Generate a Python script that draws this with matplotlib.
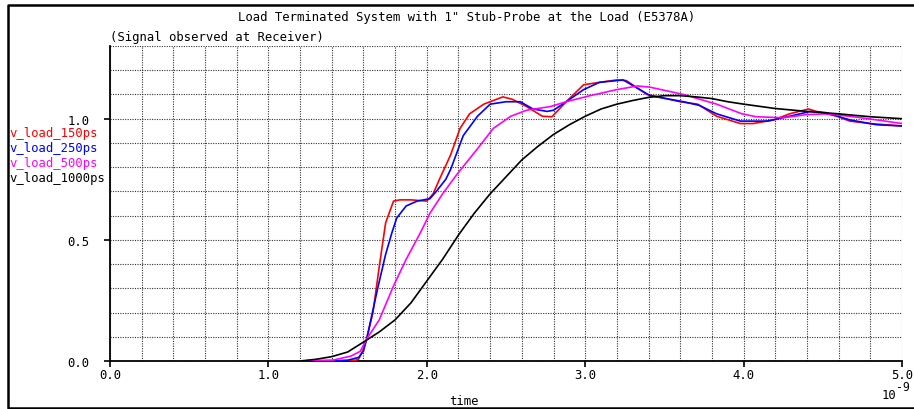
import numpy as np
import matplotlib
matplotlib.use('Agg')
import matplotlib.pyplot as plt
from matplotlib.lines import Line2D
from matplotlib.transforms import ScaledTranslation
from matplotlib.ticker import MultipleLocator, FormatStrFormatter

# time in ns, voltage normalised
t_150 = [1.2, 1.4, 1.55, 1.57, 1.60, 1.62, 1.66, 1.70, 1.74, 1.79, 1.83, 1.9, 2.0, 2.04, 2.08,
         2.15, 2.21, 2.27, 2.36, 2.48, 2.54, 2.63, 2.73, 2.79, 2.88, 2.99, 3.09, 3.20, 3.26,
         3.39, 3.60, 3.71, 3.83, 3.98, 4.06, 4.19, 4.29, 4.41, 4.46, 4.59, 4.67, 4.80, 5.0]
v_150 = [0.0, 0.0, 0.003, 0.008, 0.05, 0.09, 0.20, 0.39, 0.57, 0.66, 0.665, 0.665, 0.66, 0.69, 0.75,
         0.85, 0.96, 1.02, 1.06, 1.09, 1.08, 1.05, 1.01, 1.008, 1.07, 1.14, 1.15, 1.16, 1.157,
         1.10, 1.07, 1.06, 1.01, 0.98, 0.98, 0.995, 1.02, 1.04, 1.03, 1.01, 0.99, 0.98, 0.97]

t_250 = [1.2, 1.4, 1.5, 1.57, 1.60, 1.62, 1.69, 1.74, 1.78, 1.81, 1.87, 1.94, 2.02, 2.06, 2.12,
         2.15, 2.23, 2.32, 2.40, 2.50, 2.59, 2.67, 2.76, 2.80, 2.88, 2.99, 3.09, 3.24, 3.41,
         3.62, 3.72, 3.83, 3.98, 4.15, 4.29, 4.42, 4.52, 4.67, 4.84, 5.0]
v_250 = [0.0, 0.0, 0.003, 0.015, 0.04, 0.09, 0.30, 0.44, 0.53, 0.59, 0.64, 0.66, 0.67, 0.70, 0.75,
         0.79, 0.93, 1.01, 1.06, 1.07, 1.07, 1.04, 1.03, 1.035, 1.07, 1.12, 1.15, 1.16, 1.095,
         1.07, 1.055, 1.02, 0.99, 0.99, 1.01, 1.03, 1.025, 0.995, 0.975, 0.97]

t_500 = [1.2, 1.41, 1.52, 1.58, 1.62, 1.70, 1.79, 1.87, 1.96, 2.02, 2.10, 2.19, 2.32, 2.42,
         2.53, 2.63, 2.78, 2.88, 3.03, 3.20, 3.33, 3.41, 3.62, 3.83, 3.99, 4.08, 4.25, 4.40,
         4.52, 4.67, 4.84, 5.0]
v_500 = [0.0, 0.004, 0.02, 0.04, 0.09, 0.17, 0.31, 0.42, 0.53, 0.61, 0.69, 0.77, 0.876, 0.96,
         1.01, 1.035, 1.05, 1.07, 1.095, 1.12, 1.135, 1.13, 1.10, 1.06, 1.02, 1.008, 1.004, 1.017,
         1.02, 1.01, 0.995, 0.98]

t_1000 = [1.2, 1.3, 1.4, 1.5, 1.6, 1.7, 1.8, 1.9, 2.0, 2.1, 2.2, 2.3, 2.4, 2.5, 2.6, 2.7, 2.8,
          2.9, 3.0, 3.1, 3.2, 3.3, 3.4, 3.5, 3.6, 3.7, 3.8, 3.9, 4.0, 4.2, 4.4, 4.6, 4.8, 5.0]
v_1000 = [0.0, 0.007, 0.018, 0.037, 0.078, 0.12, 0.17, 0.24, 0.33, 0.42, 0.52, 0.61, 0.69, 0.76,
          0.83, 0.885, 0.935, 0.975, 1.01, 1.04, 1.06, 1.075, 1.088, 1.095, 1.095, 1.09, 1.083,
          1.07, 1.06, 1.042, 1.03, 1.02, 1.008, 1.0]

names = ['v_load_150ps', 'v_load_250ps', 'v_load_500ps', 'v_load_1000ps']
colors = ['#ff0000', '#0000ff', '#ff00ff', '#000000']
series = [(t_150, v_150), (t_250, v_250), (t_500, v_500), (t_1000, v_1000)]

mono = 'DejaVu Sans Mono'
fs = 8.8

fig = plt.figure(figsize=(9.14, 4.10), dpi=100)
ax = fig.add_axes([110 / 914, 1 - 362 / 410, 792 / 914, 315 / 410])

for (t, v), c in zip(series, colors):
    ax.plot(t, v, color=c, lw=1.2, zorder=3)

ax.set_xlim(0, 5)
ax.set_ylim(0, 1.3)

ax.xaxis.set_major_locator(MultipleLocator(1.0))
ax.xaxis.set_minor_locator(MultipleLocator(0.2))
ax.yaxis.set_major_locator(MultipleLocator(0.5))
ax.yaxis.set_minor_locator(MultipleLocator(0.1))
ax.xaxis.set_major_formatter(FormatStrFormatter('%.1f'))
ax.yaxis.set_major_formatter(FormatStrFormatter('%.1f'))
ax.grid(True, which='both', color='#333333', linestyle=(0, (1, 1.2)), lw=0.8)
ax.tick_params(which='minor', length=0)
ax.tick_params(which='major', direction='out', length=4, width=1.2, color='black')
ax.tick_params(axis='y', pad=11)
ax.tick_params(axis='x', pad=1)
for lab in ax.get_xticklabels() + ax.get_yticklabels():
    lab.set_fontfamily(mono)
    lab.set_fontsize(fs)

# keep the last time label inside the canvas
fig.canvas.draw()
last = ax.get_xticklabels()[-1]
last.set_transform(last.get_transform() + ScaledTranslation(-2 / 100, 0, fig.dpi_scale_trans))

for s in ['top', 'right']:
    ax.spines[s].set_visible(False)
for s in ['left', 'bottom']:
    ax.spines[s].set_linewidth(1.3)

fig.text(467 / 914, 1 - 17 / 410, 'Load Terminated System with 1" Stub-Probe at the Load (E5378A)',
         ha='center', va='center', family=mono, fontsize=fs)
fig.text(110 / 914, 1 - 38 / 410, '(Signal observed at Receiver)',
         ha='left', va='center', family=mono, fontsize=fs)

for i, (n, c) in enumerate(zip(names, colors)):
    fig.text(9 / 914, 1 - (133 + 15.3 * i) / 410, n, color=c,
             ha='left', va='center', family=mono, fontsize=fs)

fig.text(464 / 914, 1 - 402 / 410, 'time', ha='center', va='center', family=mono, fontsize=fs)
fig.text(896 / 914, 1 - 396 / 410, '10', ha='right', va='center', family=mono, fontsize=fs)
fig.text(896 / 914, 1 - 388 / 410, '-9', ha='left', va='center', family=mono, fontsize=fs - 0.5)

# border around the plot window (right side runs off the canvas)
fig.lines.append(Line2D([1.0, 8 / 914, 8 / 914, 1.0], [1 - 6 / 410, 1 - 6 / 410, 1 - 409 / 410, 1 - 409 / 410],
                        transform=fig.transFigure, color='black', lw=1.8))

fig.savefig('out.png', dpi=100)
